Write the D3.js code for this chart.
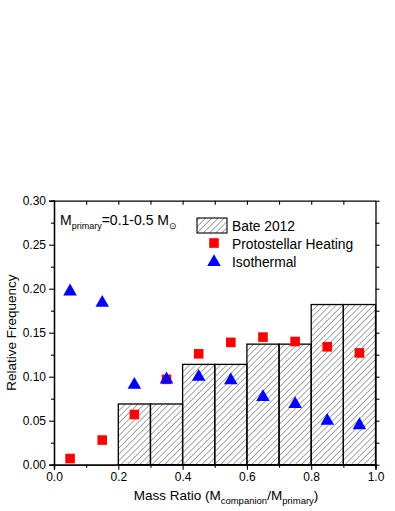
<!DOCTYPE html>
<html>
<head>
<meta charset="utf-8">
<script src="https://cdn.jsdelivr.net/npm/d3@7"></script>
<style>
  body { margin: 0; background: #fff; }
  text { font-family: "Liberation Sans", Arial, sans-serif; }
</style>
</head>
<body>
<script>
// data
const binStarts = [0.2, 0.3, 0.4, 0.5, 0.6, 0.7, 0.8, 0.9];
const bateFreq = [0.069, 0.069, 0.114, 0.114, 0.137, 0.137, 0.182, 0.182];
const ratioCenters = [0.05, 0.15, 0.25, 0.35, 0.45, 0.55, 0.65, 0.75, 0.85, 0.95];
const heatingFreq = [0.007, 0.028, 0.057, 0.097, 0.126, 0.139, 0.145, 0.140, 0.134, 0.127];
const isoFreq = [0.198, 0.185, 0.092, 0.098, 0.101, 0.097, 0.078, 0.070, 0.051, 0.046];
const xTicks = [0, 0.2, 0.4, 0.6, 0.8, 1.0];
const yTicks = [0, 0.05, 0.10, 0.15, 0.20, 0.25, 0.30];

const width = 395, height = 511;
const margin = {left: 54, right: 19.5, top: 200.7, bottom: 46.3};

const svg = d3.select("body").append("svg")
    .attr("width", width)
    .attr("height", height);

const x = d3.scaleLinear().domain([0, 1]).range([margin.left, width - margin.right]);
const y = d3.scaleLinear().domain([0, 0.3]).range([height - margin.bottom, margin.top]);

// hatch pattern
svg.append("defs").append("pattern")
    .attr("id", "hatch")
    .attr("patternUnits", "userSpaceOnUse")
    .attr("width", 4.4).attr("height", 4.4)
    .attr("patternTransform", "rotate(45)")
  .append("line")
    .attr("x1", 0).attr("y1", 0).attr("x2", 0).attr("y2", 4.4)
    .attr("stroke", "#222").attr("stroke-width", 0.8);

// histogram
svg.append("g")
  .selectAll("rect")
  .data(binStarts)
  .join("rect")
    .attr("x", d => x(d))
    .attr("width", d => x(d + 0.1) - x(d))
    .attr("y", (d, i) => y(bateFreq[i]))
    .attr("height", (d, i) => y(0) - y(bateFreq[i]))
    .attr("fill", "url(#hatch)")
    .attr("stroke", "#000")
    .attr("stroke-width", 1.3);

// axes
const fmt = d3.format(".1f");
svg.append("g")
    .attr("transform", `translate(0,${y(0)})`)
    .call(d3.axisBottom(x).tickValues(xTicks).tickFormat(fmt).tickSize(5).tickPadding(3))
    .call(g => g.selectAll(".tick text").attr("font-size", 12).attr("fill", "#000"));
svg.append("g")
    .attr("transform", `translate(0,${y(0)})`)
    .call(d3.axisBottom(x).tickValues([0.1, 0.3, 0.5, 0.7, 0.9]).tickFormat("").tickSize(3));

svg.append("g")
    .attr("transform", `translate(${x(0)},0)`)
    .call(d3.axisLeft(y).tickValues(yTicks).tickFormat(d3.format(".2f")).tickSize(5).tickPadding(3))
    .call(g => g.selectAll(".tick text").attr("font-size", 12).attr("fill", "#000"));
svg.append("g")
    .attr("transform", `translate(${x(0)},0)`)
    .call(d3.axisLeft(y).tickValues([0.025, 0.075, 0.125, 0.175, 0.225, 0.275]).tickFormat("").tickSize(3));

svg.append("g")
    .attr("transform", `translate(0,${y(0.3)})`)
    .call(d3.axisBottom(x).tickValues([0.1, 0.2, 0.3, 0.4, 0.5, 0.6, 0.7, 0.8, 0.9]).tickFormat("").tickSize(4).tickSizeOuter(0));

svg.append("g")
    .attr("transform", `translate(${x(1)},0)`)
    .call(d3.axisRight(y).tickValues(yTicks.concat([0.025, 0.075, 0.125, 0.175, 0.225, 0.275])).tickFormat("").tickSize(4).tickSizeOuter(0));

svg.selectAll(".domain").attr("stroke", "#000").attr("stroke-width", 1.3);
svg.selectAll(".tick line").attr("stroke", "#000").attr("stroke-width", 1.1);

// markers
svg.append("g")
  .selectAll("rect")
  .data(ratioCenters)
  .join("rect")
    .attr("x", d => x(d) - 4.8)
    .attr("y", (d, i) => y(heatingFreq[i]) - 4.8)
    .attr("width", 9.6).attr("height", 9.6)
    .attr("fill", "#ff0000");

const tri = d3.symbol().type(d3.symbolTriangle).size(80);
svg.append("g")
  .selectAll("path")
  .data(ratioCenters)
  .join("path")
    .attr("transform", (d, i) => `translate(${x(d)},${y(isoFreq[i]) + 1})`)
    .attr("d", tri)
    .attr("fill", "#0000ff");

// axis titles
svg.append("text")
    .attr("x", 226).attr("y", 500)
    .attr("text-anchor", "middle")
    .attr("font-size", 13.5)
    .call(t => {
      t.append("tspan").text("Mass Ratio (M");
      t.append("tspan").attr("font-size", 9.5).attr("dy", 3.5).text("companion");
      t.append("tspan").attr("dy", -3.5).text("/M");
      t.append("tspan").attr("font-size", 9.5).attr("dy", 3.5).text("primary");
      t.append("tspan").attr("dy", -3.5).text(")");
    });

svg.append("text")
    .attr("transform", `translate(16,${(y(0) + y(0.3)) / 2}) rotate(-90)`)
    .attr("text-anchor", "middle")
    .attr("font-size", 13.5)
    .text("Relative Frequency");

// annotation
svg.append("text")
    .attr("x", 60).attr("y", 225)
    .attr("font-size", 14)
    .call(t => {
      t.append("tspan").text("M");
      t.append("tspan").attr("font-size", 9).attr("dy", 3.5).text("primary");
      t.append("tspan").attr("dy", -3.5).text("=0.1-0.5  M");
      t.append("tspan").attr("font-size", 9).attr("dy", 3.5).text("\u2299");
    });

// legend
const lg = svg.append("g");
lg.append("rect")
    .attr("x", 197).attr("y", 218).attr("width", 30).attr("height", 15)
    .attr("fill", "url(#hatch)").attr("stroke", "#000").attr("stroke-width", 1.1);
lg.append("text").attr("x", 232).attr("y", 230.5).attr("font-size", 13.8).text("Bate 2012");
lg.append("rect")
    .attr("x", 214 - 4.8).attr("y", 243 - 4.8).attr("width", 9.6).attr("height", 9.6)
    .attr("fill", "#ff0000");
lg.append("text").attr("x", 232).attr("y", 248.5).attr("font-size", 13.8).text("Protostellar Heating");
lg.append("path")
    .attr("transform", "translate(214,262)")
    .attr("d", tri)
    .attr("fill", "#0000ff");
lg.append("text").attr("x", 232).attr("y", 266.5).attr("font-size", 13.8).text("Isothermal");
</script>
</body>
</html>
